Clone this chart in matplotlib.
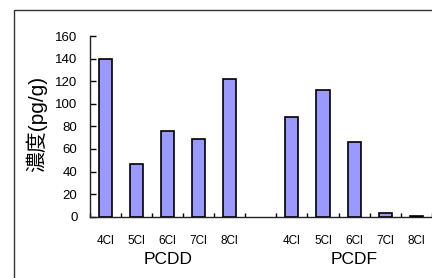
import matplotlib
matplotlib.use("Agg")
import matplotlib.pyplot as plt
from matplotlib.patches import Rectangle
from matplotlib.transforms import blended_transform_factory
import numpy as np

plt.rcParams['font.family'] = ['Liberation Sans', 'DejaVu Sans']

groups = ["PCDD", "PCDF"]
congeners = ["4Cl", "5Cl", "6Cl", "7Cl", "8Cl"]
pcdd = [140, 47, 76, 69, 122]
pcdf = [88.5, 112.5, 66, 3.5, 0.8]
yticks = [0, 20, 40, 60, 80, 100, 120, 140, 160]
ylabel = "濃度(pg/g)"

fig = plt.figure(figsize=(4.32, 2.78), dpi=100)
fig.patches.append(Rectangle((14/432, -0.1), 1.2, 1 - 10/278 + 0.1, transform=fig.transFigure,
                             fill=False, edgecolor='#333333', linewidth=1.0))
ax = fig.add_axes([90/432, 1 - 216.7/278, 341.7/432, (216.7 - 36)/278])

n = len(congeners)
x_dd = np.arange(n)
x_df = np.arange(n) + n + 1
values = pcdd + pcdf
xs = list(x_dd) + list(x_df)
ax.bar(xs, values, width=0.42, color='#9999FF', edgecolor='black', linewidth=1.2, zorder=3)

ax.set_xlim(-0.5, 2 * n + 0.5)
ax.set_ylim(0, 160)
ax.set_yticks(yticks)
ax.tick_params(axis='y', direction='in', length=4, width=1, labelsize=9.5, pad=9)
ax.set_xticks(xs)
ax.set_xticklabels(congeners + congeners, fontsize=8.5)
ax.tick_params(axis='x', which='major', length=0, pad=13)
ax.set_xticks(np.arange(-0.5, 2 * n + 1, 1), minor=True)
ax.tick_params(axis='x', which='minor', direction='in', length=3, width=1)
for s in ['top', 'right']:
    ax.spines[s].set_visible(False)
for s in ['left', 'bottom']:
    ax.spines[s].set_linewidth(1.0)
    ax.spines[s].set_color('#222222')

tr = blended_transform_factory(ax.transData, fig.transFigure)
for xg, g in zip([np.mean(x_dd), np.mean(x_df)], groups):
    ax.text(xg, 1 - 259/278, g, transform=tr, ha='center', va='center', fontsize=12.5,
            family=['Liberation Sans Narrow', 'Liberation Sans'])

fig.text(36/432, 1 - 124/278, ylabel, rotation=90, ha='center', va='center', fontsize=15,
         family=['Liberation Sans', 'Noto Sans CJK JP'])

fig.savefig("out.png", dpi=100)
